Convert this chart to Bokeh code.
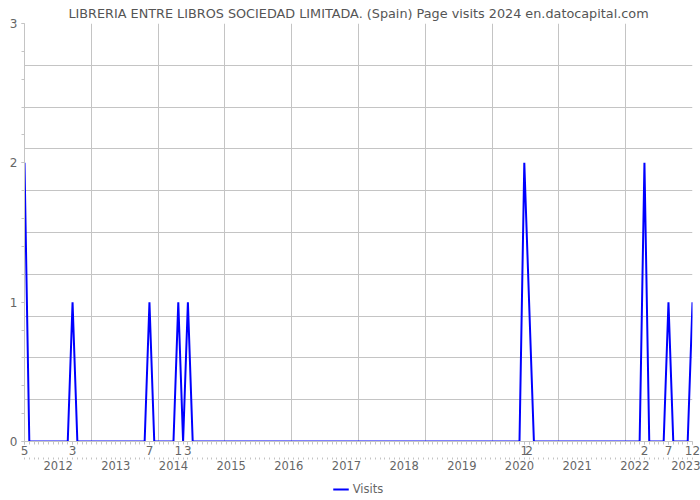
from bokeh.plotting import figure
from bokeh.layouts import column
from bokeh.models import (LinearAxis, FixedTicker, Grid, Legend, LegendItem,
                          Range1d, Title)
from bokeh.embed import file_html
from bokeh.resources import INLINE

# ---- data (monthly page visits, first month 2011-05) ----
start_year = 2011
start_month = 5
visits_2011 = [2, 0, 0, 0, 0, 0, 0, 0]            # May..Dec
visits_2012 = [0, 0, 1, 0, 0, 0, 0, 0, 0, 0, 0, 0]
visits_2013 = [0, 0, 0, 0, 0, 0, 1, 0, 0, 0, 0, 0]
visits_2014 = [1, 0, 1, 0, 0, 0, 0, 0, 0, 0, 0, 0]
visits_2015 = [0, 0, 0, 0, 0, 0, 0, 0, 0, 0, 0, 0]
visits_2016 = [0, 0, 0, 0, 0, 0, 0, 0, 0, 0, 0, 0]
visits_2017 = [0, 0, 0, 0, 0, 0, 0, 0, 0, 0, 0, 0]
visits_2018 = [0, 0, 0, 0, 0, 0, 0, 0, 0, 0, 0, 0]
visits_2019 = [0, 0, 0, 0, 0, 0, 0, 0, 0, 0, 0, 0]
visits_2020 = [2, 1, 0, 0, 0, 0, 0, 0, 0, 0, 0, 0]
visits_2021 = [0, 0, 0, 0, 0, 0, 0, 0, 0, 0, 0, 0]
visits_2022 = [0, 2, 0, 0, 0, 0, 1, 0, 0, 0, 0, 1]
year_labels = ["2012", "2013", "2014", "2015", "2016", "2017", "2018",
               "2019", "2020", "2021", "2022", "2023"]
y_ticks = [0, 1, 2, 3]
series_name = "Visits"
title_text = "LIBRERIA ENTRE LIBROS SOCIEDAD LIMITADA. (Spain) Page visits 2024 en.datocapital.com"

visits = (visits_2011 + visits_2012 + visits_2013 + visits_2014 + visits_2015 +
          visits_2016 + visits_2017 + visits_2018 + visits_2019 + visits_2020 +
          visits_2021 + visits_2022)
x = list(range(len(visits)))
month_num = [((start_month - 1 + i) % 12) + 1 for i in x]

n_last = len(visits) - 1
FONT = "DejaVu Sans"
TXT = "#666666"
GRID = "#c4c4c4"
BLUE = "#0000ff"

p = figure(width=700, height=472, output_backend="svg", toolbar_location=None,
           x_range=Range1d(0, n_last), y_range=Range1d(0, 3),
           min_border_left=24, min_border_right=8, min_border_top=22,
           min_border_bottom=0, x_axis_type=None, y_axis_type=None)
p.outline_line_color = None
p.background_fill_color = "white"
p.border_fill_color = "white"

p.add_layout(Title(text=title_text, align="center", text_font=FONT,
                   text_font_size="12.8px", text_font_style="normal",
                   text_color="#555555", standoff=6), "above")

# grid: ten equal divisions in each direction
gx = [n_last * k / 10 for k in range(11)]
gy = [3 * k / 10 for k in range(11)]
p.add_layout(Grid(dimension=0, ticker=FixedTicker(ticks=gx), grid_line_color=GRID))
p.add_layout(Grid(dimension=1, ticker=FixedTicker(ticks=gy), grid_line_color=GRID))

# y axis
yminor = [k / 5 for k in range(16)]
yax = LinearAxis(ticker=FixedTicker(ticks=y_ticks, minor_ticks=yminor))
yax.axis_line_color = GRID
yax.major_tick_line_color = GRID
yax.minor_tick_line_color = GRID
yax.major_tick_out = 3
yax.major_tick_in = 0
yax.minor_tick_out = 3
yax.minor_tick_in = 0
yax.major_label_standoff = 4
yax.major_label_text_font = FONT
yax.major_label_text_font_size = "12px"
yax.major_label_text_color = TXT
p.add_layout(yax, "left")

# x axis 1: month numbers at non-zero months
nz = [i for i in x if visits[i] != 0]
xax = LinearAxis(ticker=FixedTicker(ticks=nz, minor_ticks=x))
xax.major_label_overrides = {i: str(month_num[i]) for i in nz}
xax.axis_line_color = GRID
xax.major_tick_line_color = GRID
xax.minor_tick_line_color = GRID
xax.major_tick_out = 3
xax.major_tick_in = 0
xax.minor_tick_out = 3
xax.minor_tick_in = 0
xax.major_label_standoff = 1
xax.major_label_text_font = FONT
xax.major_label_text_font_size = "12px"
xax.major_label_text_color = TXT
p.add_layout(xax, "below")

# x axis 2: years
jan_idx = [i for i in x if month_num[i] == 1]
year_pos = [j - 1 for j in jan_idx] + [n_last]
yr_ax = LinearAxis(ticker=FixedTicker(ticks=year_pos[:len(year_labels)], minor_ticks=x))
yr_ax.major_label_overrides = {pos: lab for pos, lab in zip(year_pos, year_labels)}
yr_ax.axis_line_color = None
yr_ax.major_tick_line_color = None
yr_ax.minor_tick_line_color = GRID
yr_ax.minor_tick_out = 2
yr_ax.minor_tick_in = 0
yr_ax.major_tick_out = 2
yr_ax.major_label_standoff = 1
yr_ax.major_label_text_font = FONT
yr_ax.major_label_text_font_size = "11.5px"
yr_ax.major_label_text_color = TXT
p.add_layout(yr_ax, "below")

p.line(x, visits, line_color=BLUE, line_width=2)

# legend strip below the chart
lf = figure(width=700, height=28, output_backend="svg", toolbar_location=None,
            x_range=Range1d(0, 1), y_range=Range1d(100, 101),
            min_border_left=0, min_border_right=0, min_border_top=6,
            min_border_bottom=0, x_axis_type=None, y_axis_type=None)
lf.outline_line_color = None
lf.grid.visible = False
lr = lf.line(x, visits, line_color=BLUE, line_width=2)
legend = Legend(items=[LegendItem(label=series_name, renderers=[lr])],
                orientation="horizontal", location="center",
                border_line_color=None, background_fill_alpha=0,
                label_text_font=FONT, label_text_font_size="11.5px",
                label_text_color=TXT, glyph_width=16, glyph_height=10,
                label_height=12, padding=2, margin=0, spacing=4,
                label_standoff=4)
lf.add_layout(legend, "center")

open("out.html", "w").write(file_html(column(p, lf, spacing=0), INLINE))
